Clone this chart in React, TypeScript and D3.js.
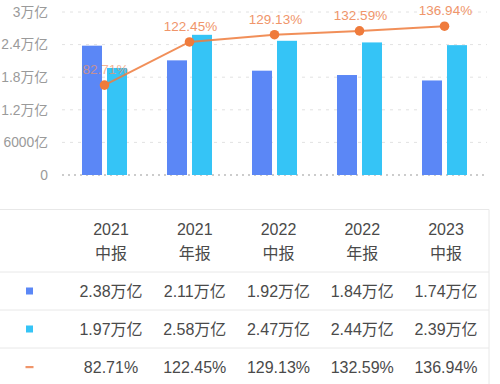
import React from "react";
import * as d3 from "d3";

const periods = ["2021\n中报", "2021\n年报", "2022\n中报", "2022\n年报", "2023\n中报"];
const seriesA = [2.38, 2.11, 1.92, 1.84, 1.74];
const seriesB = [1.97, 2.58, 2.47, 2.44, 2.39];
const ratio = [82.71, 122.45, 129.13, 132.59, 136.94];
const yTicks = [0, 0.6, 1.2, 1.8, 2.4, 3];
const yTickLabels = ["0", "6000亿", "1.2万亿", "1.8万亿", "2.4万亿", "3万亿"];
const colorA = "#5B87F6";
const colorB = "#35C4F6";
const colorLine = "#EF7B3C";

const FONT = "'Liberation Sans', 'Noto Sans CJK SC', sans-serif";

export default function App() {
  const W = 500, H = 384;
  const x = d3.scaleBand<string>().domain(periods).range([62, 487]);
  const y = d3.scaleLinear().domain([0, 3]).range([175, 12]);
  const yR = d3.scaleLinear().domain([0, 150]).range([175, 12]);
  const cx = (i: number) => (x(periods[i]) as number) + x.bandwidth() / 2;
  const line = d3.line<number>().x((_, i) => cx(i)).y((d) => yR(d));

  const colX = d3.scaleLinear().domain([0, 4]).range([111, 446]);
  const fmtWan = (v: number) => `${v.toFixed(2)}万亿`;
  const fmtPct = (v: number) => `${v.toFixed(2)}%`;
  const rowsY = [291, 329, 367];
  const dividers = [272, 310, 348, 386];

  return (
    <svg width={W} height={H} style={{ position: "absolute", left: 0, top: 0, background: "#fff" }} fontFamily={FONT}>
      {/* grid */}
      {yTicks.map((t, i) => (
        <g key={i}>
          <line x1={62} x2={487} y1={y(t)} y2={y(t)} stroke={t === 0 ? "#9a9a9a" : "#e2e2e2"} strokeWidth={t === 0 ? 1.2 : 1} strokeDasharray={t === 0 ? "2,4" : "3,5"} />
          <text x={48} y={y(t)} dy="0.35em" textAnchor="end" fontSize={13.8} fill="#9a9a9a">{yTickLabels[i]}</text>
        </g>
      ))}
      {/* bars */}
      {periods.map((p, i) => (
        <g key={p}>
          <rect x={cx(i) - 22.5} y={y(seriesA[i])} width={20} height={y(0) - y(seriesA[i])} fill={colorA} />
          <rect x={cx(i) + 2.5} y={y(seriesB[i])} width={20} height={y(0) - y(seriesB[i])} fill={colorB} />
        </g>
      ))}
      {/* line */}
      <path d={line(ratio) as string} fill="none" stroke={colorLine} strokeWidth={2} opacity={0.85} />
      {ratio.map((v, i) => (
        <g key={i}>
          <circle cx={cx(i)} cy={yR(v)} r={4.8} fill={colorLine} />
          <text x={cx(i) + 1} y={yR(v) - 11} textAnchor="middle" fontSize={13.5} fill="#F0956A" opacity={i === 0 ? 0.7 : 1}>{fmtPct(v)}</text>
        </g>
      ))}
      {/* table */}
      <line x1={0} x2={489} y1={209.5} y2={209.5} stroke="#e8e8e8" />
      <line x1={489} x2={489} y1={209.5} y2={H} stroke="#e8e8e8" />
      {dividers.map((d, i) => (
        <line key={i} x1={0} x2={489} y1={d} y2={d} stroke="#e8e8e8" />
      ))}
      {periods.map((p, i) => {
        const [a, b] = p.split("\n");
        return (
          <g key={p} fontSize={16} fill="#4a4a4a" textAnchor="middle">
            <text x={colX(i)} y={229} dy="0.35em">{a}</text>
            <text x={colX(i)} y={253} dy="0.35em">{b}</text>
            <text x={colX(i)} y={rowsY[0]} dy="0.35em">{fmtWan(seriesA[i])}</text>
            <text x={colX(i)} y={rowsY[1]} dy="0.35em">{fmtWan(seriesB[i])}</text>
            <text x={colX(i)} y={rowsY[2]} dy="0.35em">{fmtPct(ratio[i])}</text>
          </g>
        );
      })}
      <rect x={26} y={rowsY[0] - 3.5} width={7} height={7} fill={colorA} />
      <rect x={26} y={rowsY[1] - 3.5} width={7} height={7} fill={colorB} />
      <rect x={25.5} y={rowsY[2] - 1} width={8} height={2.2} fill="#F0956A" />
    </svg>
  );
}
